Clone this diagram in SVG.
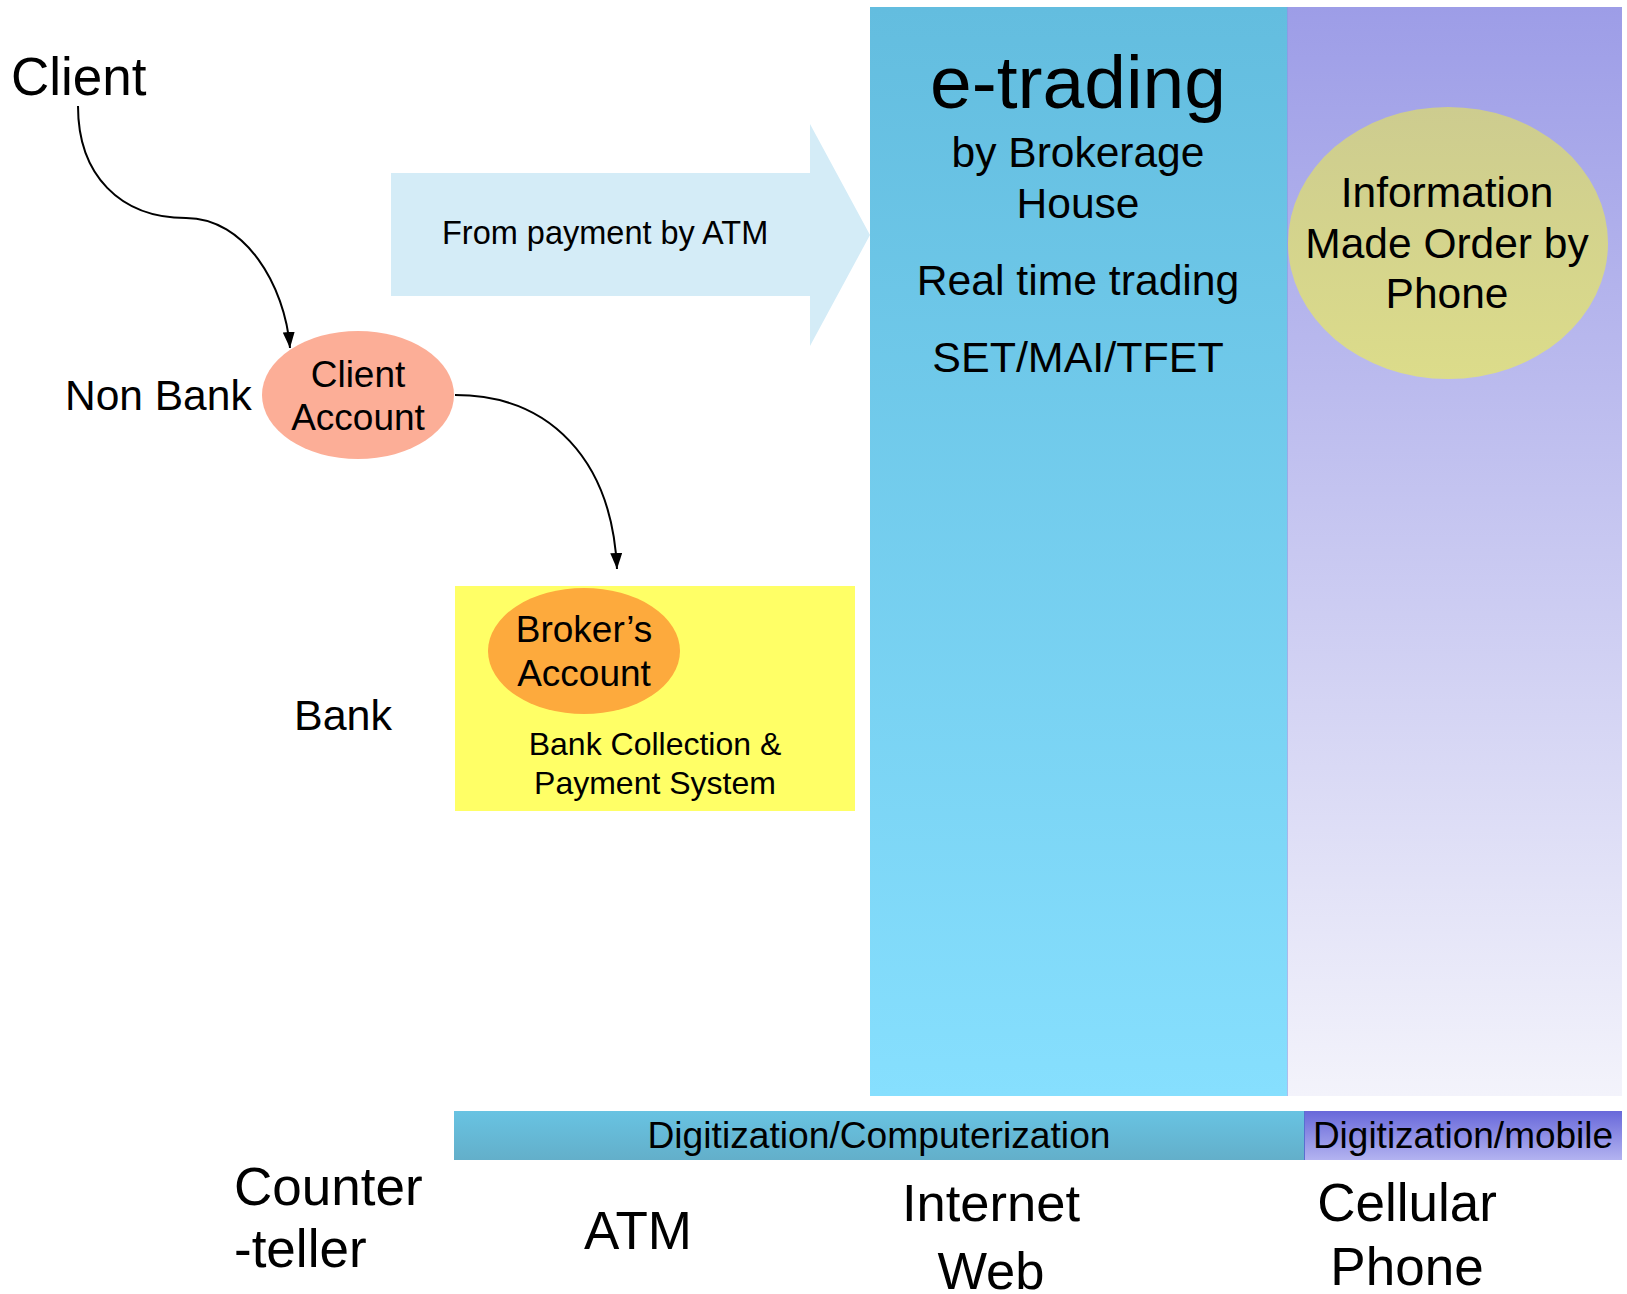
<svg xmlns="http://www.w3.org/2000/svg" width="1627" height="1294" viewBox="0 0 1627 1294">
  <defs>
    <linearGradient id="gBlue" x1="0" y1="0" x2="0" y2="1">
      <stop offset="0" stop-color="#63BDDF"/>
      <stop offset="1" stop-color="#86DFFE"/>
    </linearGradient>
    <linearGradient id="gPurple" x1="0" y1="0" x2="0" y2="1">
      <stop offset="0" stop-color="#9D9DE7"/>
      <stop offset="1" stop-color="#F3F3FB"/>
    </linearGradient>
    <linearGradient id="gOlive" x1="0" y1="0" x2="0" y2="1">
      <stop offset="0" stop-color="#CDCC8F"/>
      <stop offset="1" stop-color="#DCDC8A"/>
    </linearGradient>
    <linearGradient id="gBarBlue" x1="0" y1="0" x2="0" y2="1">
      <stop offset="0" stop-color="#68C3E2"/>
      <stop offset="1" stop-color="#63AFCA"/>
    </linearGradient>
    <linearGradient id="gBarPurple" x1="0" y1="0" x2="0" y2="1">
      <stop offset="0" stop-color="#6868DA"/>
      <stop offset="1" stop-color="#B3B3F0"/>
    </linearGradient>
    <marker id="arrow" viewBox="0 0 16 12" refX="16" refY="6" markerWidth="16" markerHeight="12" markerUnits="userSpaceOnUse" orient="auto">
      <path d="M0,0 L16,6 L0,12 z" fill="#000"/>
    </marker>
  </defs>
  <style>
    text { font-family: "Liberation Sans", Arial, sans-serif; fill: #000; }
    .c { text-anchor: middle; }
    .conn { fill: none; stroke: #000; stroke-width: 2; }
  </style>

  <rect x="0" y="0" width="1627" height="1294" fill="#fff"/>

  <g id="col-etrading">
    <rect x="870" y="7" width="417" height="1089" fill="url(#gBlue)"/>
    <text class="c" x="1078" y="108" font-size="75">e-trading</text>
    <text class="c" x="1078" y="167" font-size="42.5">by Brokerage</text>
    <text class="c" x="1078" y="218" font-size="42.5">House</text>
    <text class="c" x="1078" y="295" font-size="42.7">Real time trading</text>
    <text class="c" x="1078" y="372" font-size="43">SET/MAI/TFET</text>
  </g>

  <g id="col-mobile">
    <rect x="1287" y="7" width="335" height="1089" fill="url(#gPurple)"/>
    <line x1="1287.5" y1="7" x2="1287.5" y2="1096" stroke="#7F9BE4" stroke-width="1" opacity="0.6"/>
  </g>

  <g id="node-phone-order">
    <ellipse cx="1448" cy="243" rx="160" ry="136" fill="url(#gOlive)"/>
    <text class="c" x="1447" y="207" font-size="42.5">Information</text>
    <text class="c" x="1447" y="258" font-size="42.5">Made Order by</text>
    <text class="c" x="1447" y="308" font-size="42.5">Phone</text>
  </g>

  <g id="arrow-atm">
    <polygon points="391,173 810,173 810,124 870,235 810,346 810,296 391,296" fill="#D4ECF7"/>
    <text x="442" y="244" font-size="32.5">From payment by ATM</text>
  </g>

  <g id="label-client">
    <text x="11" y="95" font-size="53">Client</text>
  </g>

  <g id="label-nonbank">
    <text x="65" y="410" font-size="42.5">Non Bank</text>
  </g>

  <g id="node-client-account">
    <ellipse cx="358" cy="395" rx="96" ry="64" fill="#FCAE97"/>
    <text class="c" x="358" y="387" font-size="37">Client</text>
    <text class="c" x="358" y="430" font-size="37">Account</text>
  </g>

  <g id="label-bank">
    <text x="294" y="730" font-size="43">Bank</text>
  </g>

  <g id="node-bank-system">
    <rect x="455" y="586" width="400" height="225" fill="#FFFF66"/>
    <text class="c" x="655" y="755" font-size="32">Bank Collection &amp;</text>
    <text class="c" x="655" y="794" font-size="32">Payment System</text>
  </g>

  <g id="node-broker-account">
    <ellipse cx="584" cy="651" rx="96" ry="63" fill="#FDAA3D"/>
    <text class="c" x="584" y="642" font-size="37">Broker’s</text>
    <text class="c" x="584" y="686" font-size="37">Account</text>
  </g>

  <g id="connectors">
    <path class="conn" d="M78,106 C78,175 120,218 186,218 C245,218 285,285 290,348" marker-end="url(#arrow)"/>
    <path class="conn" d="M455,395 C550,395 612,460 617,569" marker-end="url(#arrow)"/>
  </g>

  <g id="bar-computerization">
    <rect x="454" y="1111" width="850" height="49" fill="url(#gBarBlue)"/>
    <text class="c" x="879" y="1148" font-size="37.2">Digitization/Computerization</text>
  </g>

  <g id="bar-mobile">
    <rect x="1304" y="1111" width="318" height="49" fill="url(#gBarPurple)"/>
    <line x1="1304.5" y1="1111" x2="1304.5" y2="1160" stroke="#5A6FD0" stroke-width="1"/>
    <text class="c" x="1463" y="1148" font-size="37">Digitization/mobile</text>
  </g>

  <g id="label-counter">
    <text x="234" y="1205" font-size="53">Counter</text>
    <text x="234" y="1267" font-size="53">-teller</text>
  </g>

  <g id="label-atm">
    <text class="c" x="638" y="1249" font-size="53">ATM</text>
  </g>

  <g id="label-internet">
    <text class="c" x="991" y="1221" font-size="52.5">Internet</text>
    <text class="c" x="991" y="1289" font-size="52.5">Web</text>
  </g>

  <g id="label-cellular">
    <text class="c" x="1407" y="1221" font-size="53">Cellular</text>
    <text class="c" x="1407" y="1285" font-size="53">Phone</text>
  </g>
</svg>
